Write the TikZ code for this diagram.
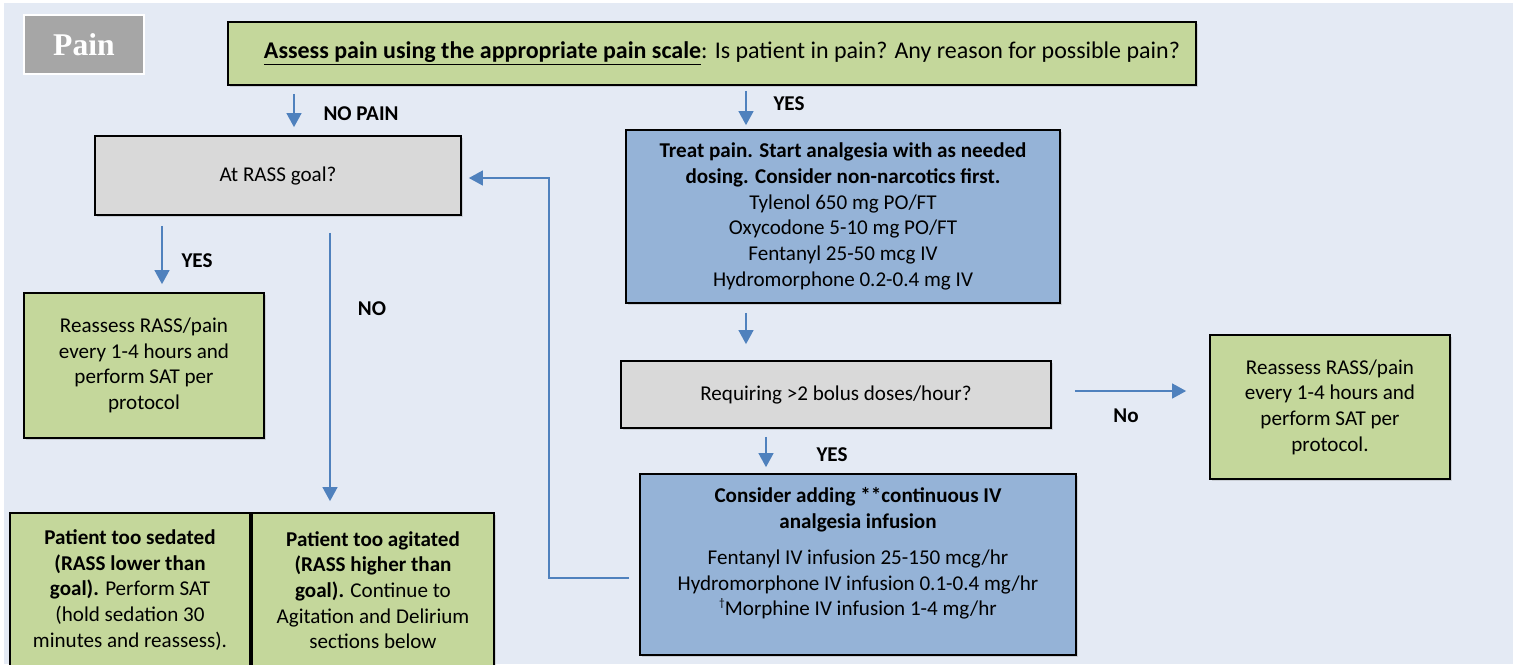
\documentclass[tikz,border=0pt]{standalone}
\usepackage{fontspec}
\setmainfont{Carlito}
\newfontfamily\titlefont{Liberation Serif}
\usepackage{tikz}
\usetikzlibrary{arrows.meta,calc,shadows}
\definecolor{bgblue}{HTML}{E4EAF4}
\definecolor{boxgreen}{HTML}{C4D79B}
\definecolor{boxgrey}{HTML}{D9D9D9}
\definecolor{boxblue}{HTML}{95B3D7}
\definecolor{titlegrey}{HTML}{A6A6A6}
\definecolor{arrowblue}{HTML}{4F81BD}

\begin{document}
\begin{tikzpicture}[x=0.02cm,y=-0.02cm]
        \tikzstyle{every node} = [rectangle, align=center, font=\fontsize{12}{14.6}\selectfont]
        \tikzstyle{box} = [draw=black, line width=1pt, inner sep=0pt, drop shadow={opacity=0.25,shadow xshift=1.2pt,shadow yshift=-1.2pt}]
        \tikzstyle{greenbox} = [box, fill=boxgreen]
        \tikzstyle{greybox} = [box, fill=boxgrey]
        \tikzstyle{bluebox} = [box, fill=boxblue]
        \tikzstyle{lbl} = [font=\bfseries\fontsize{12}{14.6}\selectfont]
        \tikzstyle{arr} = [draw=arrowblue, line width=0.9pt, -{Triangle[length=8pt,width=8.5pt]}]
        \useasboundingbox (0,0) rectangle (1515,664);
        \fill[bgblue] (4,3) rectangle (1513,664);
        % boxes
        \node[fill=titlegrey, draw=white, line width=1.2pt, minimum width=2.4cm, minimum height=1.18cm, text=white, font=\titlefont\bfseries\fontsize{18}{20}\selectfont] (pain) at (84,44.5) {Pain};
        \node[greenbox, minimum width=19.36cm, minimum height=1.26cm, font=\fontsize{13.65}{16}\selectfont] (assess) at (712,53.5) {\hspace*{0.4cm}\underline{\textbf{Assess pain using the appropriate pain scale}}: Is patient in pain? Any reason for possible pain?};
        \node[greybox, minimum width=7.32cm, minimum height=1.58cm] (rass) at (278,175.5) {At RASS goal?};
        \node[bluebox, minimum width=8.68cm, minimum height=3.46cm] (treat) at (843,216.5) {\textbf{Treat pain. Start analgesia with as needed}\\\textbf{dosing. Consider non-narcotics first.}\\Tylenol 650 mg PO/FT\\Oxycodone 5-10 mg PO/FT\\Fentanyl 25-50 mcg IV\\Hydromorphone 0.2-0.4 mg IV};
        \node[greenbox, minimum width=4.8cm, minimum height=2.9cm] (reassl) at (144,365.5) {Reassess RASS/pain\\every 1-4 hours and\\perform SAT per\\protocol};
        \node[greybox, minimum width=8.6cm, minimum height=1.34cm] (req) at (836,394.5) {Requiring >2 bolus doses/hour?};
        \node[greenbox, minimum width=4.8cm, minimum height=2.88cm] (reassr) at (1330,407) {Reassess RASS/pain\\every 1-4 hours and\\perform SAT per\\protocol.};
        \node[bluebox, minimum width=8.72cm, minimum height=3.62cm] (consider) at (858,564.5) {\textbf{Consider adding **continuous IV}\\\textbf{analgesia infusion}\\[6pt]Fentanyl IV infusion 25-150 mcg/hr\\Hydromorphone IV infusion 0.1-0.4 mg/hr\\\raisebox{0.9ex}{\fontsize{6.5}{7}\selectfont †}Morphine IV infusion 1-4 mg/hr\\\mbox{}};
        \node[greenbox, minimum width=4.8cm, minimum height=3.08cm] (sedated) at (130,590) {\textbf{Patient too sedated}\\\textbf{(RASS lower than}\\\textbf{goal).} Perform SAT\\(hold sedation 30\\minutes and reassess).};
        \node[greenbox, minimum width=4.84cm, minimum height=3.08cm] (agitated) at (373,590) {\textbf{Patient too agitated}\\\textbf{(RASS higher than}\\\textbf{goal).} Continue to\\Agitation and Delirium\\sections below};
        % labels
        \node[lbl] (nopain) at (361,114) {NO PAIN};
        \node[lbl] (yesa) at (789,104) {YES};
        \node[lbl] (yesb) at (197,261) {YES};
        \node[lbl] (noa) at (372,309) {NO};
        \node[lbl] (nob) at (1126,416) {No};
        \node[lbl] (yesc) at (832,455) {YES};
        % arrows
        \draw[arr, shorten <=0.16cm, shorten >=0.16cm] ($(rass.north |- assess.south)+(16,0)$) -- ($(rass.north)+(16,0)$);
        \draw[arr, shorten <=0.1cm, shorten >=0.08cm] ($(treat.north |- assess.south)+(-97,0)$) -- ($(treat.north)+(-97,0)$);
        \draw[arr, shorten <=0.2cm, shorten >=0.16cm] ($(reassl.north |- rass.south)+(18,0)$) -- ($(reassl.north)+(18,0)$);
        \draw[arr, shorten <=0.34cm, shorten >=0.22cm] ($(agitated.north |- rass.south)+(-43,0)$) -- ($(agitated.north)+(-43,0)$);
        \draw[arr, shorten <=0.18cm, shorten >=0.32cm] ($(req.north |- treat.south)+(-90,0)$) -- ($(req.north)+(-90,0)$);
        \draw[arr, shorten <=0.46cm, shorten >=0.46cm] ($(req.east)+(0,-3.5)$) -- ($(reassr.west |- req.east)+(0,-3.5)$);
        \draw[arr, shorten <=0.16cm, shorten >=0.12cm] ($(consider.north |- req.south)+(-92,0)$) -- ($(consider.north)+(-92,0)$);
        \draw[arr] ($(consider.west)+(-10,13.5)$) -- ++(-80,0) |- ($(rass.east)+(7,2.5)$);
\end{tikzpicture}
\end{document}
